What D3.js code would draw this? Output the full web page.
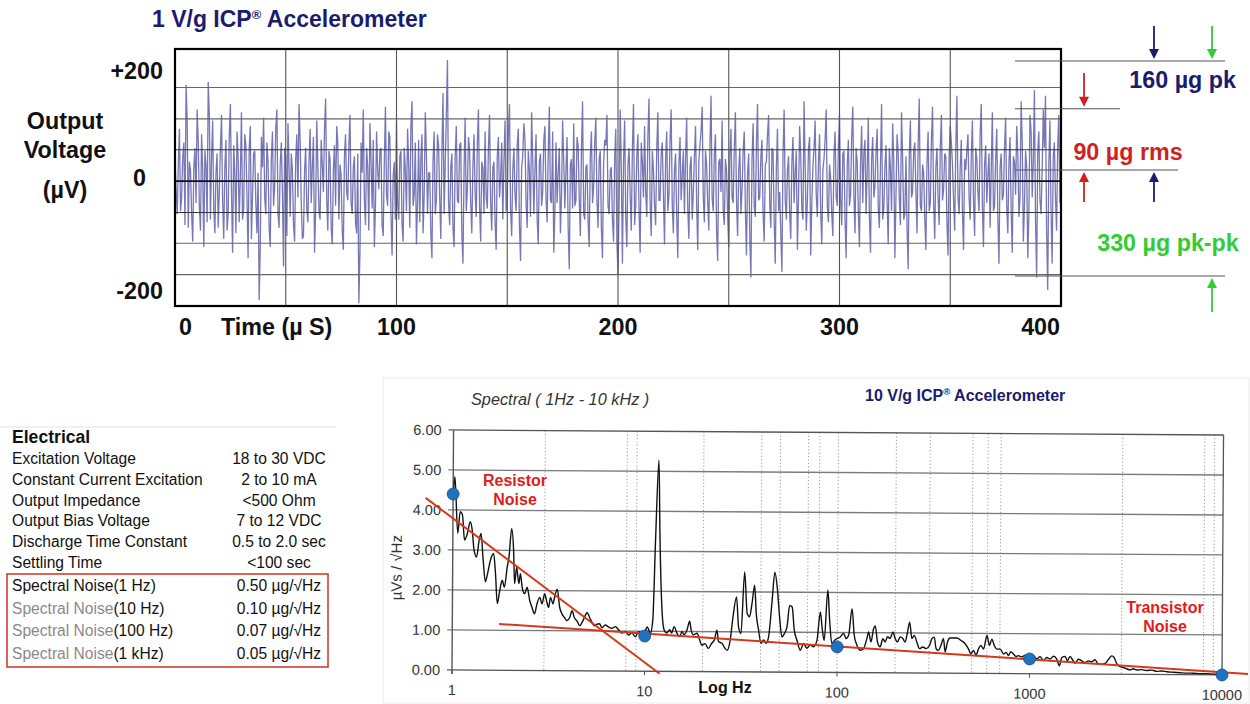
<!DOCTYPE html>
<html><head><meta charset="utf-8">
<script src="https://cdn.jsdelivr.net/npm/d3@7"></script>
<style>
body{margin:0;background:#fff;}
svg text{font-family:Arial,"Liberation Sans",sans-serif;}
</style></head><body>
<svg id="c" width="1250" height="704"></svg>
<script>
// ---------------- DATA ----------------
// Top: time trace (µV). noise = samples at whole µs (0..399), noiseHalf = samples at +0.5 µs
const timeTicks = [0, 100, 200, 300, 400];
const timeGrid = [50, 100, 150, 200, 250, 300, 350];
const voltTicks = [200, 0, -200];
const voltTickLabels = ["+200", "0", "-200"];
const voltGrid = [-170, -113, -57, 0, 57, 113, 170];
const noise = [
 40,-60,95,-30,70,175,-85,20,-110,60,130,-45,85,-120,30,180,-70,110,-95,50,
 -20,120,-105,75,-60,140,-130,15,90,-75,125,-50,65,-140,100,-25,55,-95,-216,80,
 115,-60,35,-120,90,-10,130,-85,70,-155,45,105,-65,20,-110,85,140,-40,-100,60,
 -75,95,25,-130,110,-55,75,-20,150,-90,40,-115,65,100,-70,10,-125,85,-35,120,
 -60,45,-95,-222,70,130,-80,25,105,-50,-120,90,-15,60,-100,135,-45,80,-135,35,
 110,-70,55,-110,20,95,-85,145,-25,-115,75,40,-95,125,-60,15,-140,90,-35,65,
 -105,160,30,220,-80,50,-120,100,-40,70,-150,115,-15,55,-95,85,-65,130,-110,25,
 90,-50,120,-90,35,-125,80,5,-70,110,-30,140,-100,60,-55,95,-145,45,75,-85,
 20,125,-60,85,-115,50,-20,100,-75,135,-40,-130,70,15,-95,110,-50,80,-160,40,
 105,-35,65,-100,145,-70,30,-120,90,-10,115,-85,55,-140,75,120,-60,25,-110,95,
 -170,130,-150,110,-120,60,-90,140,-45,85,-130,35,100,-65,150,-100,20,-80,125,-35,
 70,-115,90,-25,130,-95,50,-140,80,10,-60,115,-105,45,-20,100,-125,65,135,-75,
 30,-90,155,-55,85,-145,40,110,-80,20,-120,95,-40,125,-100,60,-15,90,-135,50,
 -175,105,-65,140,-30,75,-110,35,120,-85,55,-150,95,-20,-165,130,-70,45,-105,80,
 15,-125,100,-50,145,-90,60,-135,25,110,-65,85,-115,40,130,-75,5,-100,90,-45,
 120,-80,55,-140,75,-25,135,-95,35,-120,100,50,-60,115,-130,80,-10,95,-85,140,
 -50,65,-115,25,105,-140,85,-30,125,-70,45,-160,110,-20,70,-95,150,-55,15,-125,
 90,-40,135,-105,60,-80,120,-15,45,-135,100,30,-90,155,-60,75,-125,20,85,-70,
 110,-100,40,-55,140,-120,65,10,-85,125,-45,95,-150,50,-25,115,-95,80,-130,35,
 100,-65,145,-110,55,-140,120,-30,165,-175,90,-60,130,155,-198,110,-150,70,-90,120
];
const noiseHalf = [
 -15,30,-55,45,-80,110,35,-60,25,-40,70,-90,20,55,-75,120,40,-50,15,-85,
 60,-35,25,-90,80,-20,65,-95,45,10,-70,85,-30,60,-105,50,-40,15,-120,25,
 -30,70,-85,40,-45,95,-60,30,-20,60,-100,25,50,-80,40,-30,75,-105,20,-50,
 35,-40,80,-55,25,-70,30,95,-35,55,-85,20,-45,70,30,-90,45,-20,65,-40,
 25,-75,50,-130,15,-35,60,-90,40,75,-45,20,55,-80,35,-25,90,-60,10,-70,
 -40,45,-80,60,-55,30,100,-45,70,-40,-75,85,-25,50,15,-95,40,-60,85,-30,
 55,-60,120,-40,25,-85,45,-35,65,-95,20,-55,80,-40,30,-25,70,-45,35,-60,
 -30,60,-40,25,-75,45,-30,70,35,-55,85,-50,20,-25,65,-80,25,105,-40,55,
 -65,40,20,-70,35,-45,75,-30,50,-35,90,-55,-40,60,-25,35,20,-85,30,-50,
 -45,80,-30,55,-60,25,-75,45,-40,70,-35,40,-85,30,65,-45,20,-70,40,-110,
 -40,20,35,-65,30,-25,60,-80,45,-55,70,-30,-20,85,-40,55,-45,60,-35,50,
 -25,40,-55,75,-45,20,-65,30,-35,55,40,-50,25,-70,45,-40,35,90,-30,55,
 -40,65,-30,50,-90,35,-20,-55,40,-65,45,-30,60,-35,20,-60,55,-50,15,-105,
 40,-45,70,-35,45,-60,30,85,-40,60,-70,25,-55,-95,50,-35,20,-60,35,-40,
 55,-30,45,-70,25,-35,80,-40,60,-25,35,-55,20,75,-45,30,-60,45,-30,65,
 -35,50,-70,30,-45,80,-25,60,-55,35,-40,75,20,-65,40,-30,55,-50,30,-70,
 25,-40,60,-55,35,-25,50,-80,40,-60,-85,45,-30,55,-20,65,-45,30,-70,35,
 -55,75,-40,25,-30,60,-35,50,-75,45,70,-35,60,-30,25,-55,40,55,-30,45,
 -35,60,-20,85,-45,30,-40,50,20,-55,40,-70,25,-35,60,-45,35,-55,45,-25,
 50,-30,70,-45,25,-60,90,40,-70,55,-35,20,60,-90,30,-55,45,-30,60,-40
];
// Right-hand bracket annotations (µg)
const annotLevels = [160, 90, 0, -170];
const annotTexts = ["160 µg pk", "90 µg rms", "330 µg pk-pk"];

// Table
const tableTitle = "Electrical";
const tablePrefix = ["Excitation Voltage","Constant Current Excitation","Output Impedance","Output Bias Voltage","Discharge Time Constant","Settling Time","Spectral Noise","Spectral Noise","Spectral Noise","Spectral Noise"];
const tableSuffix = ["","","","","","","(1 Hz)","(10 Hz)","(100 Hz)","(1 kHz)"];
const tablePrefixGray = [false,false,false,false,false,false,false,true,true,true];
const tableValues = ["18 to 30 VDC","2 to 10 mA","<500 Ohm","7 to 12 VDC","0.5 to 2.0 sec","<100 sec","0.50 µg/√Hz","0.10 µg/√Hz","0.07 µg/√Hz","0.05 µg/√Hz"];

// Spectrum (Hz, µV/√Hz)
const specFreq = [1.0,1.02,1.06,1.09,1.12,1.15,1.19,1.23,1.26,1.29,1.33,1.37,1.40,1.44,1.48,1.52,1.57,1.63,1.67,1.71,
 1.76,1.81,1.86,1.92,1.96,2.02,2.07,2.10,2.15,2.21,2.25,2.30,2.37,2.44,2.52,2.59,2.67,2.75,2.84,2.92,
 3.01,3.08,3.16,3.23,3.33,3.39,3.50,3.61,3.71,3.82,3.94,4.07,4.19,4.30,4.44,4.59,4.72,4.85,5.01,5.17,
 5.32,5.47,5.64,5.82,5.99,6.23,6.49,6.76,7.03,7.31,7.62,7.92,8.24,8.58,8.93,9.29,9.67,10.1,10.3,10.7,
 11.0,11.3,11.7,11.9,12.3,12.6,13.0,13.5,13.8,14.2,14.7,15.2,15.6,16.0,16.6,17.1,17.4,17.9,18.7,19.3,
 19.8,20.6,21.4,22.3,23.0,23.7,24.2,25.2,26.2,26.9,27.8,28.7,29.9,30.7,31.6,32.9,34.0,35.0,36.0,37.1,
 37.9,39.0,40.2,41.4,42.8,44.0,45.8,47.2,48.6,50.1,51.6,53.1,54.8,56.5,58.2,59.8,61.8,64.3,66.9,69.6,
 72.4,75.4,78.5,81.6,83.3,85.6,89.1,91.2,93.8,97.6,103.7,107.9,111.3,114.6,119.2,122.5,126.5,131.6,137,142.6,
 145.5,149.7,154.4,157.5,161.9,167.2,172.6,177.5,182.5,188.4,194.5,200,205.6,212.3,219.3,225.4,231.8,237.6,244.3,251.2,
 259.4,267.7,278.8,290,301.7,310.5,319.2,326.8,336,345.6,356.6,364,374,386,402,419,439,462,481,495,
 511,527,542,558,576,600,618,636,655,676,703,732,755,777,799,824,851,875,910,948,
 986,1026,1055,1089,1134,1180,1228,1278,1330,1384,1429,1470,1529,1572,1623,1675,1722,1793,1866,1942,
 2021,2103,2189,2278,2371,2467,2567,2672,2747,2836,2951,3071,3196,3326,3461,3602,3826,4063,4315,4582,
 4866,5168,5589,6050,6556,7096,7690,8333,9017,9960];
const specVal = [4.25,4.83,3.42,3.96,3.88,3.25,3.42,3.71,3.5,3.0,2.83,3.25,3.42,2.75,2.21,2.42,2.75,2.92,2.42,1.67,
 2.0,2.25,2.08,2.58,2.83,3.54,3.0,2.17,2.58,2.17,2.42,2.08,1.92,2.08,1.75,1.58,1.42,1.67,1.83,1.67,
 1.92,1.75,1.58,1.83,1.67,1.83,2.04,1.58,1.42,1.33,1.25,1.33,1.5,1.33,1.25,1.13,1.21,1.33,1.46,1.33,
 1.21,1.13,1.17,1.18,1.08,1.15,1.1,1.07,1.11,1.03,0.95,0.99,0.9,0.96,0.86,0.99,0.95,1.03,1.11,0.95,
 1.28,3.28,5.28,3.45,1.45,1.04,0.96,1.04,0.96,1.12,0.96,0.87,1.0,0.92,1.05,1.26,1.05,0.92,0.96,0.79,
 0.66,0.7,0.58,0.71,0.79,1.04,0.75,0.71,0.58,0.54,0.79,1.37,1.87,1.12,0.96,2.5,1.46,1.38,1.71,2.17,
 1.46,1.05,0.72,0.8,0.72,0.88,1.8,2.5,2.13,1.38,0.88,0.96,1.13,1.67,1.63,1.05,0.8,0.55,0.72,0.6,
 0.68,0.64,0.8,1.51,1.14,0.8,2.06,1.31,0.73,0.82,0.89,0.98,0.85,0.93,1.6,0.94,0.69,0.56,0.6,0.85,
 1.02,0.77,1.1,1.17,0.77,0.65,0.85,0.77,0.9,0.86,1.02,0.86,0.77,0.9,0.86,0.77,1.02,1.27,0.86,0.94,
 0.77,0.61,0.65,0.61,0.69,0.86,0.9,0.61,0.57,0.69,0.86,0.53,0.78,0.88,0.88,0.88,0.82,0.74,0.61,0.49,
 0.57,0.46,0.61,0.7,0.61,0.95,0.7,0.86,0.7,0.61,0.61,0.49,0.53,0.45,0.55,0.49,0.43,0.45,0.42,0.46,
 0.4,0.38,0.43,0.37,0.43,0.33,0.41,0.37,0.44,0.37,0.2,0.41,0.44,0.33,0.44,0.35,0.27,0.37,0.33,0.29,
 0.33,0.31,0.36,0.25,0.25,0.27,0.37,0.46,0.42,0.27,0.19,0.17,0.14,0.11,0.14,0.11,0.12,0.1,0.11,0.08,
 0.09,0.07,0.06,0.05,0.04,0.04,0.03,0.03,0.02,0.02];
const specYTicks = [0, 1, 2, 3, 4, 5, 6];
const specXTicks = [1, 10, 100, 1000, 10000];
const specMinorGrid = [3, 8, 9, 20, 40, 50, 70, 80, 100, 200, 300, 500, 600, 700, 3000, 8000, 9000];
const markerFreq = [1, 10, 100, 1000, 10000];
const markerVal = [4.4, 0.88, 0.64, 0.37, 0.0];
const resistorLineF = [0.72, 12];
const resistorLineV = [4.3, -0.06];
const transistorLineF = [1.75, 13650];
const transistorLineV = [1.16, 0.03];

// ---------------- DRAW ----------------
const svg = d3.select("#c");
const NAVY = "#1b1b6f", RED = "#d41f1f", GREEN = "#33cc33";
const BIG = 23.3;

// ===== Top chart =====
const xT = d3.scaleLinear().domain([0, 400]).range([175, 1061]);
const yV = d3.scaleLinear().domain([-227, 240]).range([306, 49]);

const gTop = svg.append("g");
gTop.append("text").attr("x", 152).attr("y", 27).attr("font-size", 23).attr("font-weight", "bold").attr("fill", NAVY)
  .call(t => { t.append("tspan").text("1 V/g ICP");
               t.append("tspan").attr("font-size", 13).attr("dy", -8).text("®");
               t.append("tspan").attr("dy", 8).text(" Accelerometer"); });

// trace: whole-µs and half-µs samples in time order
const trace = [];
noise.forEach((v, i) => { trace.push([i, v]); trace.push([i + 0.5, noiseHalf[i]]); });
gTop.append("path").datum(trace)
  .attr("d", d3.line().x(d => xT(d[0])).y(d => yV(d[1])))
  .attr("fill", "none").attr("stroke", "#23238a").attr("stroke-opacity", 0.62).attr("stroke-width", 1.3);

// gridlines over trace
gTop.selectAll(".hg").data(voltGrid).join("line")
  .attr("x1", xT(0)).attr("x2", xT(400)).attr("y1", d => yV(d)).attr("y2", d => yV(d))
  .attr("stroke", d => d === 0 ? "#111" : (Math.abs(d) < 60 ? "#333" : "#666"))
  .attr("stroke-width", d => d === 0 ? 1.6 : 1.1);
gTop.selectAll(".vg").data(timeGrid).join("line")
  .attr("x1", d => xT(d)).attr("x2", d => xT(d)).attr("y1", yV(240)).attr("y2", yV(-227))
  .attr("stroke", "#555").attr("stroke-width", 1.1);
gTop.append("rect").attr("x", xT(0)).attr("y", yV(240)).attr("width", xT(400) - xT(0)).attr("height", yV(-227) - yV(240))
  .attr("fill", "none").attr("stroke", "#000").attr("stroke-width", 2.2);

// y tick labels
gTop.selectAll(".yl").data(voltTicks).join("text")
  .attr("x", d => d === 0 ? 146 : 163).attr("y", d => yV(d)).attr("dy", d => d === 0 ? "0.2em" : "0.35em")
  .attr("text-anchor", "end").attr("font-size", BIG).attr("font-weight", "bold").attr("fill", "#111")
  .text((d, i) => voltTickLabels[i]);
// x tick labels
gTop.selectAll(".xl").data(timeTicks).join("text")
  .attr("x", d => d === 0 ? xT(d) + 4 : d === 400 ? xT(d) - 1 : xT(d))
  .attr("y", 335)
  .attr("text-anchor", d => d === 0 ? "start" : d === 400 ? "end" : "middle")
  .attr("font-size", BIG).attr("font-weight", "bold").attr("fill", "#111").text(d => d);
gTop.append("text").attr("x", 221).attr("y", 335).attr("font-size", BIG).attr("font-weight", "bold").attr("fill", "#111").text("Time (µ S)");
// y title
[["Output", 129], ["Voltage", 158], ["(µV)", 198]].forEach(([s, y]) =>
  gTop.append("text").attr("x", 65).attr("y", y).attr("text-anchor", "middle").attr("font-size", BIG)
     .attr("font-weight", "bold").attr("fill", "#111").text(s));

// bracket annotations
const yA = d3.scaleLinear().domain([-170, 0, 160]).range([276, 170, 61]);
const annotExtent = [1225, 1120, 1178, 1225];
gTop.selectAll(".al").data(annotLevels).join("line")
  .attr("x1", 1015).attr("x2", (d, i) => annotExtent[i]).attr("y1", d => yA(d)).attr("y2", d => yA(d))
  .attr("stroke", "#555").attr("stroke-width", 1.1);
function arrow(x, y0, y1, color) {
  const dir = y1 > y0 ? 1 : -1;
  gTop.append("line").attr("x1", x).attr("x2", x).attr("y1", y0).attr("y2", y1 - dir * 8)
    .attr("stroke", color).attr("stroke-width", 1.8);
  gTop.append("path").attr("d", `M${x - 5},${y1 - dir * 10} L${x + 5},${y1 - dir * 10} L${x},${y1} Z`).attr("fill", color);
}
arrow(1154, 26, yA(160) - 2, NAVY);
arrow(1212, 26, yA(160) - 2, GREEN);
arrow(1084, 73, yA(90) - 2, RED);
arrow(1084, 202, yA(0) + 2, RED);
arrow(1154, 202, yA(0) + 2, NAVY);
arrow(1212, 312, yA(-170) + 2, GREEN);
gTop.append("text").attr("x", 1236).attr("y", 88).attr("text-anchor", "end").attr("font-size", BIG).attr("font-weight", "bold").attr("fill", NAVY).text(annotTexts[0]);
gTop.append("text").attr("x", 1128).attr("y", 160).attr("text-anchor", "middle").attr("font-size", BIG).attr("font-weight", "bold").attr("fill", RED).text(annotTexts[1]);
gTop.append("text").attr("x", 1168).attr("y", 251).attr("text-anchor", "middle").attr("font-size", BIG).attr("font-weight", "bold").attr("fill", GREEN).text(annotTexts[2]);

// ===== Table =====
const tb = svg.append("g");
tb.append("line").attr("x1", 0).attr("x2", 336).attr("y1", 427).attr("y2", 427).attr("stroke", "#e2e2e2");
tb.append("text").attr("x", 12).attr("y", 443).attr("font-size", 17.6).attr("font-weight", "bold").attr("fill", "#111").text(tableTitle);
const rowY = d3.scaleLinear().domain([0, 5, 6, 9]).range([464, 568, 591, 659]);
tableValues.forEach((v, i) => {
  const t = tb.append("text").attr("x", 12).attr("y", rowY(i)).attr("font-size", 15.6).attr("fill", "#111");
  t.append("tspan").attr("fill", tablePrefixGray[i] ? "#8a8a8a" : "#111").text(tablePrefix[i]);
  if (tableSuffix[i]) t.append("tspan").attr("fill", "#111").text(tableSuffix[i]);
  tb.append("text").attr("x", 279).attr("y", rowY(i)).attr("text-anchor", "middle").attr("font-size", 15.6).attr("fill", "#111").text(v);
});
tb.append("rect").attr("x", 7).attr("y", 574).attr("width", 321).attr("height", 93)
  .attr("fill", "none").attr("stroke", "#cc3322").attr("stroke-width", 1.5);

// ===== Spectrum =====
svg.append("rect").attr("x", 383).attr("y", 378).attr("width", 866).attr("height", 325)
  .attr("fill", "none").attr("stroke", "#ececec");
svg.append("text").attr("x", 471).attr("y", 405).attr("font-family", "'Liberation Serif','Times New Roman',serif")
  .attr("font-style", "italic").attr("font-size", 16.3).attr("fill", "#333").text("Spectral ( 1Hz - 10 kHz )");
svg.append("text").attr("x", 865).attr("y", 401).attr("font-size", 16).attr("font-weight", "bold").attr("fill", NAVY)
  .call(t => { t.append("tspan").text("10 V/g ICP");
               t.append("tspan").attr("font-size", 9.5).attr("dy", -6).text("®");
               t.append("tspan").attr("dy", 6).text(" Accelerometer"); });

const xF = d3.scaleLog().domain([1, 10000]).range([452, 1222]);
const yS = d3.scaleLinear().domain([0, 6]).range([670, 430]);
const sp = svg.append("g").attr("transform", "rotate(0.37,452,670)");

sp.selectAll(".mg").data(specMinorGrid).join("line")
  .attr("x1", d => xF(d)).attr("x2", d => xF(d)).attr("y1", yS(6)).attr("y2", yS(0))
  .attr("stroke", "#9a9a9a").attr("stroke-width", 1).attr("stroke-dasharray", "1.2,2.2");
sp.selectAll(".sg").data(specYTicks).join("line")
  .attr("x1", 447).attr("x2", xF(10000)).attr("y1", d => yS(d)).attr("y2", d => yS(d))
  .attr("stroke", d => (d === 0 || d === 6) ? "#555" : "#7a7a7a").attr("stroke-width", 1.3);
sp.append("line").attr("x1", xF(1)).attr("x2", xF(1)).attr("y1", yS(6)).attr("y2", yS(0) + 4).attr("stroke", "#555").attr("stroke-width", 1.4);
sp.append("line").attr("x1", xF(10000)).attr("x2", xF(10000)).attr("y1", yS(6)).attr("y2", yS(0) + 4).attr("stroke", "#555").attr("stroke-width", 1.3);
sp.selectAll(".xt").data(specXTicks).join("line")
  .attr("x1", d => xF(d)).attr("x2", d => xF(d)).attr("y1", yS(0)).attr("y2", yS(0) + 4).attr("stroke", "#555");
sp.selectAll(".ytl").data(specYTicks).join("text")
  .attr("x", 440).attr("y", d => yS(d)).attr("dy", "0.35em").attr("text-anchor", "end")
  .attr("font-size", 14.5).attr("fill", "#333").text(d => d.toFixed(2));
sp.selectAll(".xtl").data(specXTicks).join("text")
  .attr("x", d => xF(d)).attr("y", 695).attr("text-anchor", "middle")
  .attr("font-size", 14.5).attr("fill", "#333").text(d => d);
sp.append("text").attr("transform", "translate(401,568) rotate(-90)").attr("text-anchor", "middle")
  .attr("font-size", 15).attr("fill", "#333").text("µVs / √Hz");

const specPts = specFreq.map((f, i) => [f, specVal[i]]);
sp.append("path").datum(specPts)
  .attr("d", d3.line().x(d => xF(d[0])).y(d => yS(d[1])).curve(d3.curveMonotoneX))
  .attr("fill", "none").attr("stroke", "#111").attr("stroke-width", 1.4);

// red trend lines
[[resistorLineF, resistorLineV], [transistorLineF, transistorLineV]].forEach(([fs, vs]) =>
  sp.append("line").attr("x1", xF(fs[0])).attr("y1", yS(vs[0])).attr("x2", xF(fs[1])).attr("y2", yS(vs[1]))
    .attr("stroke", "#d23a1a").attr("stroke-width", 2));
sp.selectAll(".mk").data(markerFreq).join("circle")
  .attr("cx", d => xF(d)).attr("cy", (d, i) => yS(markerVal[i])).attr("r", 6)
  .attr("fill", "#1f72c2").attr("stroke", "#1a4f88").attr("stroke-width", 0.8);

svg.append("text").attr("x", 725).attr("y", 693).attr("text-anchor", "middle").attr("font-size", 16)
  .attr("font-weight", "bold").attr("fill", "#111").text("Log Hz");
[["Resistor", 486], ["Noise", 505]].forEach(([s, y]) =>
  svg.append("text").attr("x", 515).attr("y", y).attr("text-anchor", "middle").attr("font-size", 16)
     .attr("font-weight", "bold").attr("fill", "#e01b1b").text(s));
[["Transistor", 613], ["Noise", 632]].forEach(([s, y]) =>
  svg.append("text").attr("x", 1165).attr("y", y).attr("text-anchor", "middle").attr("font-size", 16)
     .attr("font-weight", "bold").attr("fill", "#e01b1b").text(s));
</script>
</body></html>
